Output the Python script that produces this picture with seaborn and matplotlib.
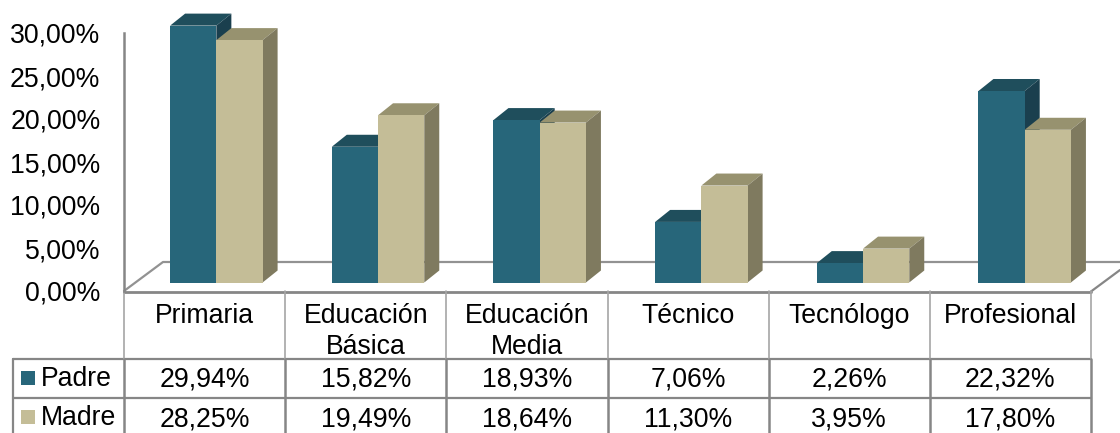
import numpy as np
import pandas as pd
import seaborn as sns
import matplotlib
matplotlib.use('Agg')
import matplotlib.pyplot as plt
from matplotlib.patches import Polygon, Rectangle
from matplotlib.transforms import IdentityTransform

categories = ['Primaria', 'Educación\nBásica', 'Educación\nMedia', 'Técnico', 'Tecnólogo', 'Profesional']
padre = [29.94, 15.82, 18.93, 7.06, 2.26, 22.32]
madre = [28.25, 19.49, 18.64, 11.30, 3.95, 17.80]
y_ticks = [0, 5, 10, 15, 20, 25, 30]

W, H = 1120, 433
FS = 19.2
GRAY = '#868686'
front = {'Padre': '#27667a', 'Madre': '#c4bd97'}
top = {'Padre': '#1f4e5c', 'Madre': '#97926f'}
side = {'Padre': '#1a3f4e', 'Madre': '#7f7a5f'}
DX, DY = 15, 12


def fmt(v):
    return f'{v:.2f}%'.replace('.', ',')


def px_axes(fig, x0, y_top, x1, y_bot):
    return fig.add_axes([x0 / W, 1 - y_bot / H, (x1 - x0) / W, (y_bot - y_top) / H])


sns.set_theme(style='white')
plt.rcParams['font.family'] = ['Liberation Sans', 'DejaVu Sans']

df = pd.DataFrame({'cat': categories, 'Padre': padre, 'Madre': madre})
df = df.melt(id_vars='cat', var_name='who', value_name='val')

fig = plt.figure(figsize=(W / 100, H / 100), dpi=100, facecolor='white')

# frame and table, in image pixels
frame = fig.add_axes([0, 0, 1, 1], zorder=0)
frame.set_xlim(0, W)
frame.set_ylim(H, 0)
frame.axis('off')
cols = np.linspace(124, 1091, len(categories) + 1)
row1, row2 = 358.5, 398
frame.plot([cols[0], 163, W], [291, 262, 262], color=GRAY, lw=1.6, alpha=0.9)
frame.plot([cols[-1], W], [291.5, 270], color=GRAY, lw=1.6)
frame.plot([cols[0], cols[-1]], [291.5, 291.5], color=GRAY, lw=2)
frame.plot([13, cols[-1]], [row1, row1], color=GRAY, lw=1.6)
frame.plot([13, cols[-1]], [row2, row2], color=GRAY, lw=1.6)
frame.plot([13, 13], [row1, H], color=GRAY, lw=1.6)
for c in cols:
    frame.plot([c, c], [291, row1], color='#a6a6a6', lw=1.2)
    frame.plot([c, c], [row1, H], color=GRAY, lw=1.8)

for i, cat in enumerate(categories):
    xc = (cols[i] + cols[i + 1]) / 2
    for j, line in enumerate(cat.split('\n')):
        frame.text(xc, 316 + j * 31, line, ha='center', va='center', fontsize=FS, color='black')
    frame.text(xc, 380, fmt(padre[i]), ha='center', va='center', fontsize=FS, color='black')
    frame.text(xc, 419, fmt(madre[i]), ha='center', va='center', fontsize=FS, color='black')

for name, yc in [('Padre', 378), ('Madre', 417)]:
    frame.add_patch(Rectangle((21, yc - 7), 14, 14, facecolor=front[name], edgecolor='none'))
    frame.text(41, yc + 1, name, ha='left', va='center', fontsize=FS, color='black')

# y axis with the tick labels
axis_ax = px_axes(fig, 124, 33, 1091, 291)
axis_ax.patch.set_visible(False)
axis_ax.set_ylim(0, 30)
axis_ax.set_xticks([])
axis_ax.set_yticks(y_ticks)
axis_ax.set_yticklabels([fmt(t) for t in y_ticks], fontsize=FS, color='black')
axis_ax.tick_params(axis='y', length=0, pad=17)
sns.despine(ax=axis_ax, top=True, right=True, bottom=True)
axis_ax.spines['left'].set_color(GRAY)
axis_ax.spines['left'].set_linewidth(1.8)

# bars, the floor sits about 8 px above the axis line
bar_ax = px_axes(fig, 124, 282.5 - 8.58 * 30, 1094, 282.5)
bar_ax.patch.set_visible(False)
sns.barplot(data=df, x='cat', y='val', hue='who', hue_order=['Padre', 'Madre'],
            palette=front, width=0.572, gap=0, saturation=1, linewidth=0, legend=False, ax=bar_ax)
bar_ax.set_xlim(-0.5 - 0.0713, 5.5 - 0.0713)
bar_ax.set_ylim(0, 30)
bar_ax.axis('off')

# depth faces, worked out from where the bars landed
for k, (name, cont) in enumerate(zip(['Padre', 'Madre'], bar_ax.containers)):
    for p in cont:
        (x0, y0) = bar_ax.transData.transform((p.get_x(), 0))
        (x1, y1) = bar_ax.transData.transform((p.get_x() + p.get_width(), p.get_height()))
        p.set_clip_on(False)
        p.set_zorder(2 + 2 * k)
        top_face = [(x0, y1), (x1, y1), (x1 + DX, y1 + DY), (x0 + DX, y1 + DY)]
        side_face = [(x1, y0), (x1 + DX, y0 + DY), (x1 + DX, y1 + DY), (x1, y1)]
        bar_ax.add_patch(Polygon(top_face, closed=True, facecolor=top[name], edgecolor='none',
                                 transform=IdentityTransform(), clip_on=False, zorder=1 + 2 * k))
        bar_ax.add_patch(Polygon(side_face, closed=True, facecolor=side[name], edgecolor='none',
                                 transform=IdentityTransform(), clip_on=False, zorder=1 + 2 * k))

fig.savefig('out.png', dpi=100)
